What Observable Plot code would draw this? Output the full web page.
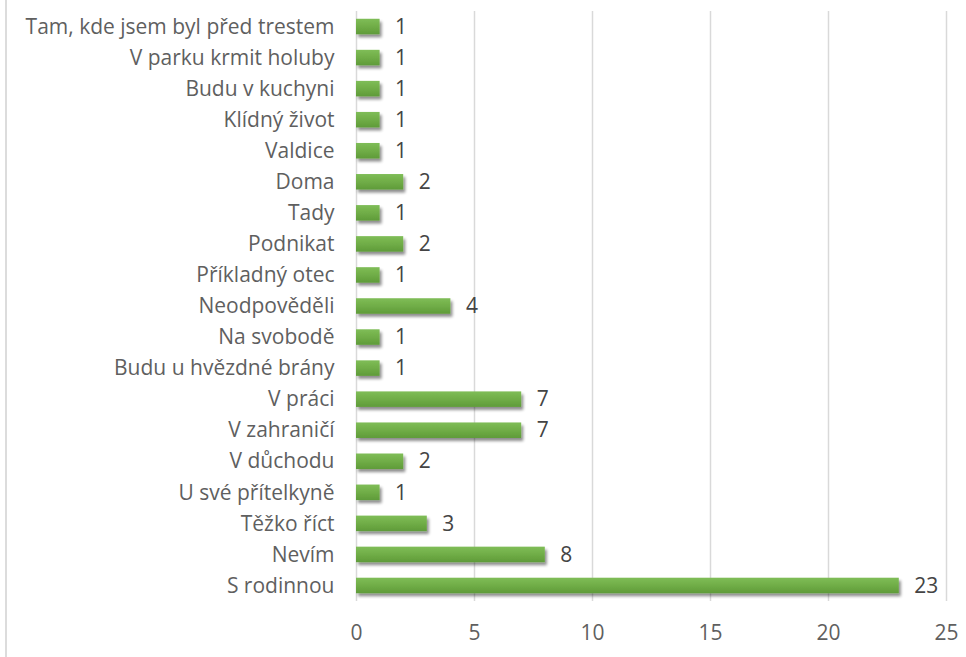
<!DOCTYPE html>
<html>
<head>
<meta charset="utf-8">
<script src="https://cdn.jsdelivr.net/npm/d3@7"></script>
<script src="https://cdn.jsdelivr.net/npm/@observablehq/plot@0.6"></script>
<style>
  html, body { margin: 0; padding: 0; background: #fff; }
  #wrap { position: relative; width: 966px; height: 657px; overflow: hidden; }
  #border { position: absolute; left: 5px; top: 0; width: 2px; height: 657px; background: #dcdcdc; }
  #chart { position: absolute; left: 0; top: 0; }
</style>
</head>
<body>
<div id="wrap"><div id="border"></div><div id="chart"></div></div>
<script>
const categories = [
  "Tam, kde jsem byl před trestem",
  "V parku krmit holuby",
  "Budu v kuchyni",
  "Klídný život",
  "Valdice",
  "Doma",
  "Tady",
  "Podnikat",
  "Příkladný otec",
  "Neodpověděli",
  "Na svobodě",
  "Budu u hvězdné brány",
  "V práci",
  "V zahraničí",
  "V důchodu",
  "U své přítelkyně",
  "Těžko říct",
  "Nevím",
  "S rodinnou"
];
const values = [1, 1, 1, 1, 1, 2, 1, 2, 1, 4, 1, 1, 7, 7, 2, 1, 3, 8, 23];
const xTicks = [0, 5, 10, 15, 20, 25];

const data = categories.map((c, i) => ({category: c, value: values[i]}));

const plot = Plot.plot({
  width: 966,
  height: 657,
  marginLeft: 356,
  marginRight: 20,
  marginTop: 11,
  marginBottom: 56,
  style: {fontFamily: "'Open Sans', sans-serif", fontSize: "21px", color: "#5f5f5f", background: "transparent"},
  x: {domain: [0, 25], ticks: xTicks},
  y: {domain: categories, paddingInner: 0.5, paddingOuter: 0.25, round: false},
  marks: [
    Plot.ruleX(xTicks.slice(1), {stroke: "#d9d9d9", strokeWidth: 1.5, strokeOpacity: 1}),
    Plot.ruleX([0], {stroke: "#d9d9d9", strokeWidth: 1.5, strokeOpacity: 1}),
    Plot.barX(data, {x: "value", y: "category", fill: "url(#barGrad)", className: "bars"}),
    Plot.text(data, {x: "value", y: "category", text: d => String(d.value), textAnchor: "start", dx: 15, fill: "#444444", fontSize: 21}),
    Plot.axisY({tickSize: 0, tickPadding: 22, label: null, fill: "#5f5f5f", fontSize: 21}),
    Plot.axisX({ticks: xTicks, tickSize: 0, tickPadding: 24, label: null, fill: "#5f5f5f", fontSize: 21})
  ]
});

const ns = "http://www.w3.org/2000/svg";
const defs = document.createElementNS(ns, "defs");
defs.innerHTML = `
  <linearGradient id="barGrad" x1="0" y1="0" x2="0" y2="1">
    <stop offset="0" stop-color="#7fbd57"/>
    <stop offset="0.5" stop-color="#70ad47"/>
    <stop offset="1" stop-color="#5f9b39"/>
  </linearGradient>
  <filter id="shadow" x="-5%" y="-50%" width="110%" height="220%">
    <feGaussianBlur in="SourceAlpha" stdDeviation="1.6"/>
    <feOffset dx="2" dy="3" result="ob"/>
    <feComponentTransfer><feFuncA type="linear" slope="0.45"/></feComponentTransfer>
    <feMerge><feMergeNode/><feMergeNode in="SourceGraphic"/></feMerge>
  </filter>`;
plot.insertBefore(defs, plot.firstChild);
plot.querySelectorAll("g.bars").forEach(g => g.setAttribute("filter", "url(#shadow)"));
plot.querySelectorAll("rect").forEach(r => r.removeAttribute("fill-opacity"));
document.getElementById("chart").appendChild(plot);
</script>
</body>
</html>
